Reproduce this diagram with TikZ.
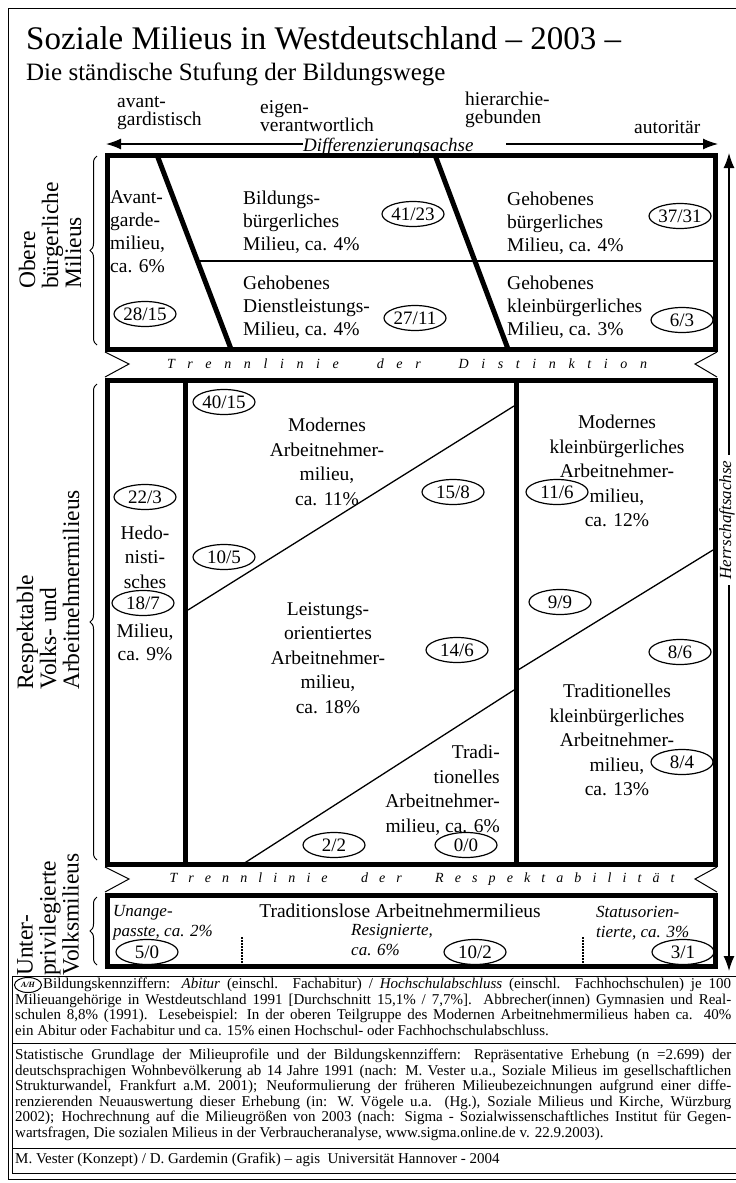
\documentclass[tikz,border=0pt]{standalone}
\usepackage{fontspec}
\setmainfont{Liberation Serif}
\usepackage{tikz}
\usetikzlibrary{arrows.meta,shapes.geometric,decorations.pathreplacing}
\tikzstyle{kennziffer}=[draw,ellipse,line width=1.2pt,minimum width=62pt,minimum height=25pt,inner sep=0pt,font=\fontsize{19}{19}\selectfont]
\tikzstyle{milieu}=[inner sep=0pt,font=\fontsize{19.5}{23}\selectfont]
\tikzstyle{milieu weit}=[inner sep=0pt,align=center,font=\fontsize{19.5}{24.5}\selectfont]
\tikzstyle{kursiv}=[inner sep=0pt,align=left,font=\fontsize{17}{20}\selectfont\itshape]
\tikzstyle{pol}=[inner sep=0pt,align=left,anchor=west,font=\fontsize{19.5}{18.5}\selectfont]
\tikzstyle{gruppe}=[inner sep=0pt,rotate=90,anchor=west,align=left,font=\fontsize{23.5}{23}\selectfont]
\tikzstyle{rahmen}=[draw,line width=5pt]
\tikzstyle{teilung}=[draw,line width=1.3pt]
\tikzstyle{zacke}=[draw,line width=1pt]
\tikzstyle{klammer}=[draw,line width=1pt,decorate,decoration={brace,amplitude=7pt}]
\tikzstyle{achse}=[draw,line width=1.3pt,-{Latex[length=15pt,width=11pt]}]
\tikzstyle{doppelachse}=[draw,line width=1.3pt,{Latex[length=15pt,width=11pt]}-{Latex[length=15pt,width=11pt]}]
\tikzstyle{trennlinie}=[inner sep=0pt,font=\fontsize{14}{14}\selectfont\itshape]
\tikzstyle{punktlinie}=[draw,line width=1.6pt,dash pattern=on 1.5pt off 1.5pt]
\tikzstyle{fuss}=[inner sep=0pt,anchor=north west,align=left,font=\fontsize{15}{15.5}\selectfont]
\newcommand{\fusszeile}[1]{\makebox[716pt][s]{#1}}

\begin{document}
\begin{tikzpicture}[x=1pt,y=-1pt]
    \useasboundingbox (0,0) rectangle (736,1183);
    % Rahmen und Ueberschrift
    \draw[line width=1pt] (8,8) rectangle (742,1179);
    \node[inner sep=0pt,anchor=west,font=\fontsize{33}{33}\selectfont] (titel) at (26,38) {Soziale Milieus in Westdeutschland – 2003 –};
    \node[inner sep=0pt,anchor=west,font=\fontsize{25}{25}\selectfont] (untertitel) at (26,74) {Die ständische Stufung der Bildungswege};

    % Pole und Differenzierungsachse
    \node[pol] (avant) at (117,113) {avant-\\gardistisch};
    \node[pol] (eigen) at (260,116) {eigen-\\verantwortlich};
    \node[pol] (hierarchie) at (465,110) {hierarchie-\\gebunden};
    \node[pol] (autoritaer) at (634,127) {autoritär};
    \coordinate (dl) at (106,144);
    \coordinate (dm) at (506,144);
    \coordinate (dr) at (718,144);
    \node[inner sep=0pt,anchor=west,font=\fontsize{19}{19}\selectfont\itshape] (diff) at (303,147) {Differenzierungsachse};
    \draw[achse] (diff.west |- dl) -- (dl);
    \draw[achse] (dm) -- (dr);

    % Herrschaftsachse
    \coordinate (ho) at (729,153);
    \coordinate (hu) at (729,971);
    \draw[doppelachse] (hu) -- (ho);
    \node[fill=white,inner xsep=6pt,inner ysep=0pt,rotate=90,font=\fontsize{17}{17}\selectfont\itshape] (herrschaft) at (727,520) {Herrschaftsachse};

    % Obere buergerliche Milieus
    \draw[rahmen] (107,155) rectangle (715,349);
    \draw[rahmen] (157,155) -- (231,349);
    \draw[rahmen] (435,155) -- (508,349);
    \draw[teilung] (197,261) -- (715,261);
    \node[milieu,anchor=west,align=left] (avantgarde) at (110,232) {Avant-\\garde-\\milieu,\\ca. 6\%};
    \node[kennziffer] (k2815) at (145,314) {28/15};
    \node[milieu,anchor=west,align=left] (bildung) at (243,222) {Bildungs-\\bürgerliches\\Milieu, ca. 4\%};
    \node[kennziffer] (k4123) at (413,214) {41/23};
    \node[milieu,anchor=west,align=left] (dienst) at (243,307) {Gehobenes\\Dienstleistungs-\\Milieu, ca. 4\%};
    \node[kennziffer] (k2711) at (415,318) {27/11};
    \node[milieu,anchor=west,align=left] (gehoben) at (507,223) {Gehobenes\\bürgerliches\\Milieu, ca. 4\%};
    \node[kennziffer] (k3731) at (680,216) {37/31};
    \node[milieu,anchor=west,align=left] (kleinbuerg) at (507,307) {Gehobenes\\kleinbürgerliches\\Milieu, ca. 3\%};
    \node[kennziffer] (k63) at (682,320) {6/3};

    % Trennlinie der Distinktion
    \draw[zacke] (105,352) -- (129,364) -- (105,377);
    \draw[zacke] (717,352) -- (695,364) -- (717,377);
    \node[trennlinie] (distinktion) at (407,364) {\makebox[480pt][s]{T r e n n l i n i e\ \ \ d e r\ \ \ D i s t i n k t i o n}};

    % Respektable Volks- und Arbeitnehmermilieus
    \draw[rahmen] (107,380) rectangle (715,864);
    \draw[rahmen] (185,380) -- (185,864);
    \draw[rahmen] (516,380) -- (516,864);
    \draw[teilung] (188,610) -- (514,406);
    \draw[teilung] (243,864) -- (514,690);
    \draw[teilung] (518,670) -- (713,550);
    \node[kennziffer] (k4015) at (224,402) {40/15};
    \node[milieu weit] (modern) at (327,462) {Modernes\\Arbeitnehmer-\\milieu,\\ca. 11\%};
    \node[kennziffer] (k158) at (453,492) {15/8};
    \node[kennziffer] (k223) at (145,497) {22/3};
    \node[milieu weit] (hedo) at (145,557) {Hedo-\\nisti-\\sches};
    \node[kennziffer] (k187) at (143,603) {18/7};
    \node[milieu,align=center] (hedomilieu) at (145,642) {Milieu,\\ca. 9\%};
    \node[kennziffer] (k105) at (224,557) {10/5};
    \node[milieu weit] (leistung) at (328,658) {Leistungs-\\orientiertes\\Arbeitnehmer-\\milieu,\\ca. 18\%};
    \node[kennziffer] (k146) at (457,650) {14/6};
    \node[milieu weit,align=right,anchor=east] (tradarbeit) at (500,790) {Tradi-\\tionelles\\Arbeitnehmer-\\milieu, ca. 6\%};
    \node[kennziffer] (k22) at (334,845) {2/2};
    \node[kennziffer] (k00) at (466,845) {0/0};
    \node[milieu weit] (modkleinb) at (617,471) {Modernes\\kleinbürgerliches\\Arbeitnehmer-\\milieu,\\ca. 12\%};
    \node[kennziffer] (k116) at (557,492) {11/6};
    \node[kennziffer] (k99) at (560,602) {9/9};
    \node[kennziffer] (k86) at (680,652) {8/6};
    \node[milieu weit] (tradkleinb) at (617,740) {Traditionelles\\kleinbürgerliches\\Arbeitnehmer-\\milieu,\\ca. 13\%};
    \node[kennziffer] (k84) at (682,762) {8/4};

    % Trennlinie der Respektabilitaet
    \draw[zacke] (105,867) -- (129,879) -- (105,892);
    \draw[zacke] (717,867) -- (695,879) -- (717,892);
    \node[trennlinie] (respektabilitaet) at (422,879) {\makebox[505pt][s]{T r e n n l i n i e\ \ \ d e r\ \ \ R e s p e k t a b i l i t ä t}};

    % Unterprivilegierte Volksmilieus
    \draw[rahmen] (107,895) rectangle (715,966);
    \node[kursiv,anchor=west] (unangepasst) at (113,923) {Unange-\\passte, ca. 2\%};
    \node[kennziffer] (k50) at (147,952) {5/0};
    \node[milieu] (traditionslos) at (400,911) {Traditionslose Arbeitnehmermilieus};
    \node[kursiv,anchor=west] (resigniert) at (351,940) {Resignierte,\\ca. 6\%};
    \node[kennziffer] (k102) at (475,952) {10/2};
    \node[kursiv,anchor=west] (statusorient) at (596,923) {Statusorien-\\tierte, ca. 3\%};
    \node[kennziffer] (k31) at (683,952) {3/1};
    \draw[punktlinie] (242,937) -- (242,966);
    \draw[punktlinie] (583,937) -- (583,963);

    % Gruppen links
    \node[gruppe] (obere) at (50,289) {Obere\\bürgerliche\\Milieus};
    \draw[klammer] (97,345) -- (97,156);
    \node[gruppe] (respektabel) at (48,690) {Respektable\\Volks- und\\Arbeitnehmermilieus};
    \draw[klammer] (97,860) -- (97,384);
    \node[gruppe] (unterpriv) at (48,976) {Unter-\\privilegierte\\Volksmilieus};
    \draw[klammer] (97,965) -- (97,897);

    % Legende
    \draw[line width=0.8pt] (12,976) rectangle (742,1173);
    \draw[line width=0.8pt] (12,1043) -- (742,1043);
    \draw[line width=0.8pt] (12,1148) -- (742,1148);
    \node[draw,ellipse,line width=1pt,minimum width=27pt,minimum height=15pt,inner sep=0pt,font=\fontsize{8}{8}\selectfont\bfseries\itshape] (ah) at (28,985) {A/H};
    \node[fuss] (legende) at (15,978) {%
        \fusszeile{\hspace*{28pt}Bildungskennziffern: \textit{Abitur} (einschl. Fachabitur) / \textit{Hochschulabschluss} (einschl. Fachhochschulen) je 100}\\
        \fusszeile{Milieuangehörige in Westdeutschland 1991 [Durchschnitt 15,1\% / 7,7\%]. Abbrecher(innen) Gymnasien und Real-}\\
        \fusszeile{schulen 8,8\% (1991). Lesebeispiel: In der oberen Teilgruppe des Modernen Arbeitnehmermilieus haben ca. 40\%}\\
        ein Abitur oder Fachabitur und ca. 15\% einen Hochschul- oder Fachhochschulabschluss.};
    \node[fuss] (grundlage) at (15,1049) {%
        \fusszeile{Statistische Grundlage der Milieuprofile und der Bildungskennziffern: Repräsentative Erhebung (n =2.699) der}\\
        \fusszeile{deutschsprachigen Wohnbevölkerung ab 14 Jahre 1991 (nach: M. Vester u.a., Soziale Milieus im gesellschaftlichen}\\
        \fusszeile{Strukturwandel, Frankfurt a.M. 2001); Neuformulierung der früheren Milieubezeichnungen aufgrund einer diffe-}\\
        \fusszeile{renzierenden Neuauswertung dieser Erhebung (in: W. Vögele u.a. (Hg.), Soziale Milieus und Kirche, Würzburg}\\
        \fusszeile{2002); Hochrechnung auf die Milieugrößen von 2003 (nach: Sigma - Sozialwissenschaftliches Institut für Gegen-}\\
        wartsfragen, Die sozialen Milieus in der Verbraucheranalyse, www.sigma.online.de v. 22.9.2003).};
    \node[fuss] (impressum) at (15,1153) {M. Vester (Konzept) / D. Gardemin (Grafik) – agis\ \ Universität Hannover - 2004};
\end{tikzpicture}
\end{document}
